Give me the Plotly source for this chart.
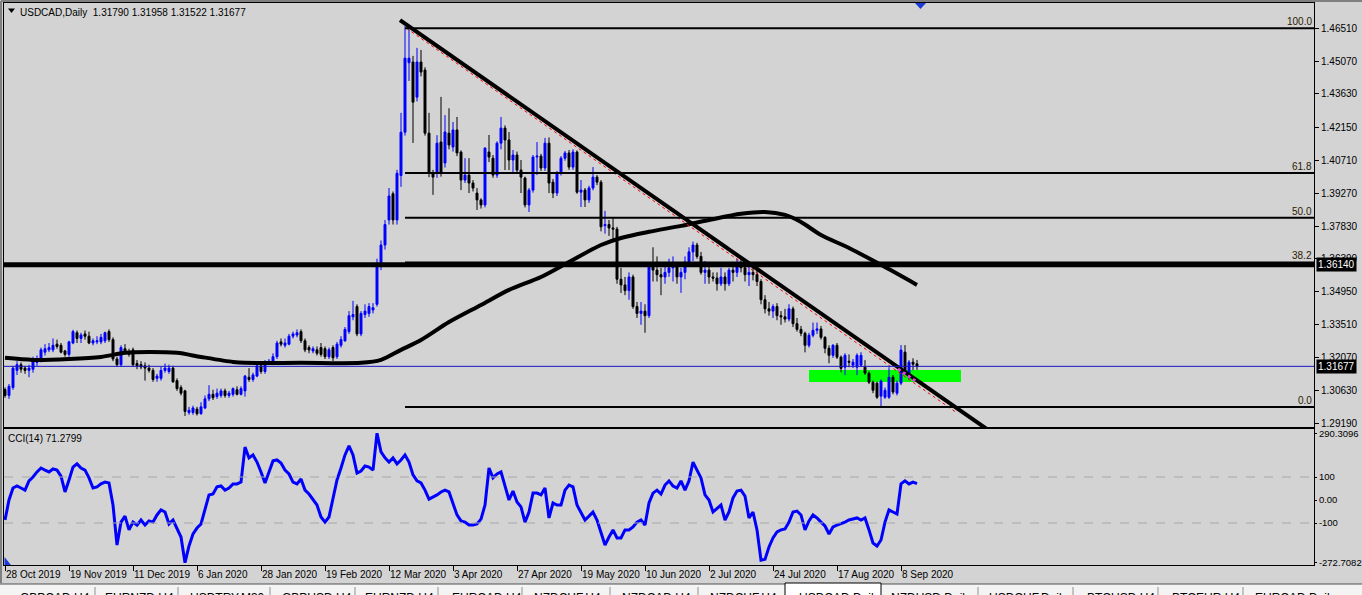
import plotly.graph_objects as go

FONT = "Liberation Sans"
BG = "#d3d3d3"

# ---------------- data ----------------
opens = [
    1.3066, 1.3040, 1.3075, 1.3150, 1.3175, 1.3160, 1.3150, 1.3155, 1.3185, 1.3195,
    1.3230, 1.3240, 1.3240, 1.3265, 1.3260, 1.3235, 1.3220, 1.3270, 1.3315, 1.3290,
    1.3310, 1.3300, 1.3270, 1.3275, 1.3275, 1.3280, 1.3320, 1.3285, 1.3200, 1.3175,
    1.3245, 1.3230, 1.3240, 1.3180, 1.3175, 1.3170, 1.3160, 1.3150, 1.3115, 1.3115,
    1.3150, 1.3145, 1.3160, 1.3105, 1.3075, 1.3060, 1.2965, 1.2965, 1.2980, 1.2960,
    1.2985, 1.3025, 1.3045, 1.3035, 1.3040, 1.3060, 1.3040, 1.3045, 1.3065, 1.3045,
    1.3060, 1.3120, 1.3110, 1.3125, 1.3170, 1.3145, 1.3180, 1.3185, 1.3210, 1.3275,
    1.3260, 1.3265, 1.3300, 1.3305, 1.3320, 1.3280, 1.3250, 1.3235, 1.3240, 1.3250,
    1.3245, 1.3210, 1.3250, 1.3210, 1.3260, 1.3280, 1.3320, 1.3385, 1.3430, 1.3310,
    1.3395, 1.3400, 1.3415, 1.3440, 1.3610, 1.3700, 1.3810, 1.3925, 1.3810, 1.4005,
    1.4195, 1.4500, 1.4503, 1.4349, 1.4503, 1.4468, 1.4191, 1.4016, 1.4016, 1.4152,
    1.4060, 1.4191, 1.4130, 1.4205, 1.4108, 1.3985, 1.4007, 1.3972, 1.3928, 1.3898,
    1.3876, 1.4108, 1.4081, 1.4007, 1.4147, 1.4213, 1.4161, 1.4073, 1.4095, 1.4029,
    1.3994, 1.3876, 1.3941, 1.4086, 1.4090, 1.4038, 1.4147, 1.3976, 1.3928, 1.4016,
    1.4081, 1.4104, 1.4042, 1.4108, 1.3932, 1.3941, 1.3898, 1.3950, 1.3998, 1.3976,
    1.3785, 1.3790, 1.3775, 1.3770, 1.3550, 1.3525, 1.3500, 1.3560, 1.3430, 1.3400,
    1.3410, 1.3390, 1.3610, 1.3590, 1.3570, 1.3560, 1.3580, 1.3600, 1.3610, 1.3560,
    1.3580, 1.3625, 1.3670, 1.3700, 1.3650, 1.3580, 1.3590, 1.3560, 1.3555, 1.3530,
    1.3560, 1.3530, 1.3590, 1.3580, 1.3610, 1.3600, 1.3570, 1.3580, 1.3570, 1.3540,
    1.3460, 1.3420, 1.3410, 1.3430, 1.3390, 1.3385, 1.3375, 1.3420, 1.3355, 1.3330,
    1.3313, 1.3260, 1.3304, 1.3326, 1.3332, 1.3295, 1.3247, 1.3216, 1.3260, 1.3208,
    1.3164, 1.3190, 1.3173, 1.3164, 1.3173, 1.3164, 1.3138, 1.3098, 1.3094, 1.3037,
    1.3032, 1.3032, 1.3120, 1.3050, 1.3094, 1.3230, 1.3120, 1.3186, 1.31790,
]
highs = [
    1.3075, 1.3090, 1.3170, 1.3190, 1.3185, 1.3170, 1.3175, 1.3210, 1.3215, 1.3250,
    1.3265, 1.3270, 1.3290, 1.3285, 1.3270, 1.3240, 1.3280, 1.3328, 1.3325, 1.3315,
    1.3325, 1.3320, 1.3290, 1.3300, 1.3310, 1.3320, 1.3330, 1.3295, 1.3210, 1.3260,
    1.3265, 1.3245, 1.3250, 1.3195, 1.3190, 1.3185, 1.3175, 1.3160, 1.3135, 1.3165,
    1.3180, 1.3175, 1.3170, 1.3115, 1.3085, 1.3065, 1.2990, 1.2995, 1.2990, 1.3010,
    1.3040, 1.3085, 1.3065, 1.3070, 1.3070, 1.3070, 1.3060, 1.3075, 1.3080, 1.3080,
    1.3130, 1.3160, 1.3140, 1.3185, 1.3190, 1.3195, 1.3200, 1.3225, 1.3280, 1.3290,
    1.3290, 1.3310, 1.3320, 1.3330, 1.3330, 1.3290, 1.3260, 1.3255, 1.3255, 1.3270,
    1.3255, 1.3250, 1.3260, 1.3275, 1.3300, 1.3340, 1.3410, 1.3455, 1.3440, 1.3410,
    1.3440, 1.3445, 1.3445, 1.3640, 1.3720, 1.3810, 1.3950, 1.3935, 1.4030, 1.4280,
    1.4660, 1.4645, 1.4530, 1.4565, 1.4556, 1.4480, 1.4280, 1.4030, 1.4182, 1.4350,
    1.4270, 1.4300, 1.4240, 1.4262, 1.4115, 1.4081, 1.4081, 1.3985, 1.3950, 1.3905,
    1.4130, 1.4183, 1.4095, 1.4155, 1.4262, 1.4225, 1.4196, 1.4117, 1.4110, 1.4073,
    1.4000, 1.3950, 1.4095, 1.4152, 1.4100, 1.4170, 1.4172, 1.3990, 1.4025, 1.4090,
    1.4113, 1.4117, 1.4120, 1.4115, 1.3985, 1.3950, 1.3960, 1.4042, 1.4007, 1.3985,
    1.3850, 1.3810, 1.3820, 1.3780, 1.3600, 1.3560, 1.3580, 1.3570, 1.3450, 1.3450,
    1.3440, 1.3625, 1.3690, 1.3650, 1.3600, 1.3620, 1.3640, 1.3650, 1.3620, 1.3600,
    1.3650, 1.3690, 1.3715, 1.3710, 1.3670, 1.3630, 1.3610, 1.3580, 1.3580, 1.3600,
    1.3580, 1.3600, 1.3620, 1.3640, 1.3650, 1.3620, 1.3610, 1.3600, 1.3590, 1.3550,
    1.3480, 1.3450, 1.3440, 1.3445, 1.3410, 1.3420, 1.3440, 1.3430, 1.3380, 1.3345,
    1.3320, 1.3315, 1.3360, 1.3360, 1.3345, 1.3300, 1.3260, 1.3265, 1.3270, 1.3215,
    1.3225, 1.3220, 1.3200, 1.3225, 1.3230, 1.3195, 1.3145, 1.3105, 1.3100, 1.3110,
    1.3075, 1.3164, 1.3130, 1.3105, 1.3261, 1.3261, 1.3195, 1.3203, 1.31958,
]
lows = [
    1.3030, 1.3025, 1.3065, 1.3130, 1.3140, 1.3135, 1.3120, 1.3140, 1.3170, 1.3185,
    1.3215, 1.3230, 1.3230, 1.3245, 1.3225, 1.3210, 1.3210, 1.3265, 1.3270, 1.3270,
    1.3285, 1.3265, 1.3260, 1.3265, 1.3265, 1.3270, 1.3275, 1.3190, 1.3165, 1.3165,
    1.3220, 1.3210, 1.3165, 1.3155, 1.3155, 1.3105, 1.3140, 1.3100, 1.3100, 1.3105,
    1.3140, 1.3135, 1.3095, 1.3060, 1.3040, 1.2950, 1.2955, 1.2955, 1.2952, 1.2955,
    1.2980, 1.3015, 1.3020, 1.3025, 1.3030, 1.3030, 1.3030, 1.3035, 1.3040, 1.3040,
    1.3035, 1.3100, 1.3100, 1.3120, 1.3135, 1.3135, 1.3175, 1.3180, 1.3200, 1.3255,
    1.3250, 1.3260, 1.3290, 1.3295, 1.3270, 1.3230, 1.3225, 1.3225, 1.3215, 1.3210,
    1.3200, 1.3200, 1.3190, 1.3200, 1.3250, 1.3275, 1.3310, 1.3370, 1.3300, 1.3300,
    1.3380, 1.3385, 1.3400, 1.3430, 1.3590, 1.3680, 1.3790, 1.3790, 1.3790, 1.3955,
    1.4180, 1.4420, 1.4148, 1.4330, 1.4440, 1.4180, 1.3998, 1.3920, 1.3995, 1.4000,
    1.4040, 1.4120, 1.4110, 1.4090, 1.3941, 1.3972, 1.3928, 1.3935, 1.3854, 1.3860,
    1.3865, 1.4064, 1.3995, 1.3995, 1.4120, 1.4029, 1.4029, 1.4016, 1.4015, 1.3928,
    1.3865, 1.3845, 1.3930, 1.4007, 1.4025, 1.4025, 1.3928, 1.3906, 1.3915, 1.4005,
    1.4070, 1.4030, 1.4030, 1.3925, 1.3867, 1.3867, 1.3885, 1.3940, 1.3963, 1.3760,
    1.3750, 1.3740, 1.3715, 1.3530, 1.3490, 1.3480, 1.3460, 1.3420, 1.3380, 1.3350,
    1.3315, 1.3380, 1.3540, 1.3540, 1.3480, 1.3530, 1.3560, 1.3540, 1.3530, 1.3490,
    1.3550, 1.3610, 1.3630, 1.3640, 1.3570, 1.3530, 1.3530, 1.3540, 1.3500, 1.3520,
    1.3500, 1.3520, 1.3540, 1.3560, 1.3580, 1.3540, 1.3520, 1.3545, 1.3520, 1.3440,
    1.3400, 1.3390, 1.3380, 1.3370, 1.3350, 1.3360, 1.3365, 1.3340, 1.3320, 1.3300,
    1.3229, 1.3250, 1.3295, 1.3310, 1.3285, 1.3225, 1.3181, 1.3205, 1.3200, 1.3142,
    1.3129, 1.3164, 1.3160, 1.3129, 1.3165, 1.3130, 1.3090, 1.3050, 1.3025, 1.2990,
    1.3025, 1.3025, 1.3045, 1.3040, 1.3085, 1.3130, 1.3110, 1.3151, 1.31522,
]
closes = [
    1.3040, 1.3080, 1.3160, 1.3175, 1.3155, 1.3150, 1.3160, 1.3195, 1.3200, 1.3240,
    1.3245, 1.3250, 1.3260, 1.3255, 1.3230, 1.3220, 1.3275, 1.3320, 1.3290, 1.3305,
    1.3300, 1.3270, 1.3280, 1.3280, 1.3295, 1.3315, 1.3285, 1.3200, 1.3175, 1.3250,
    1.3230, 1.3220, 1.3175, 1.3170, 1.3165, 1.3160, 1.3150, 1.3110, 1.3125, 1.3150,
    1.3160, 1.3160, 1.3100, 1.3070, 1.3050, 1.2970, 1.2975, 1.2985, 1.2960, 1.2990,
    1.3025, 1.3045, 1.3030, 1.3050, 1.3060, 1.3040, 1.3050, 1.3070, 1.3045, 1.3070,
    1.3125, 1.3110, 1.3130, 1.3170, 1.3145, 1.3185, 1.3190, 1.3210, 1.3270, 1.3265,
    1.3270, 1.3300, 1.3310, 1.3315, 1.3280, 1.3240, 1.3240, 1.3245, 1.3225, 1.3220,
    1.3210, 1.3240, 1.3205, 1.3265, 1.3285, 1.3330, 1.3390, 1.3395, 1.3310, 1.3400,
    1.3410, 1.3430, 1.3425, 1.3610, 1.3700, 1.3790, 1.3915, 1.3810, 1.4015, 1.4195,
    1.4520, 1.4520, 1.4327, 1.4503, 1.4459, 1.4191, 1.4016, 1.3998, 1.4147, 1.4016,
    1.4196, 1.4139, 1.4205, 1.4104, 1.3985, 1.4007, 1.3972, 1.3950, 1.3898, 1.3876,
    1.4125, 1.4086, 1.4007, 1.4147, 1.4213, 1.4161, 1.4073, 1.4095, 1.4029, 1.3998,
    1.3876, 1.3941, 1.4086, 1.4090, 1.4038, 1.4147, 1.3972, 1.3928, 1.4016, 1.4081,
    1.4104, 1.4042, 1.4108, 1.3932, 1.3941, 1.3898, 1.3950, 1.3998, 1.3976, 1.3780,
    1.3790, 1.3775, 1.3770, 1.3550, 1.3525, 1.3500, 1.3560, 1.3430, 1.3400, 1.3410,
    1.3390, 1.3610, 1.3590, 1.3570, 1.3560, 1.3580, 1.3600, 1.3610, 1.3560, 1.3580,
    1.3625, 1.3670, 1.3700, 1.3650, 1.3580, 1.3590, 1.3560, 1.3555, 1.3530, 1.3560,
    1.3530, 1.3590, 1.3580, 1.3610, 1.3600, 1.3570, 1.3580, 1.3570, 1.3540, 1.3460,
    1.3420, 1.3410, 1.3430, 1.3390, 1.3385, 1.3375, 1.3420, 1.3355, 1.3330, 1.3313,
    1.3260, 1.3304, 1.3326, 1.3332, 1.3295, 1.3247, 1.3216, 1.3260, 1.3208, 1.3159,
    1.3216, 1.3186, 1.3186, 1.3216, 1.3216, 1.3138, 1.3098, 1.3063, 1.3032, 1.3103,
    1.3063, 1.3120, 1.3055, 1.3094, 1.3239, 1.3142, 1.3186, 1.3177, 1.31677,
]
cci = [
    -87, 0, 52, 61, 52, 43, 83, 100, 122, 139,
    130, 122, 135, 130, 104, 35, 87, 143, 157, 139,
    130, 96, 52, 57, 70, 78, 74, -22, -196, -96,
    -70, -130, -96, -109, -87, -109, -91, -96, -65, -43,
    -52, -104, -87, -122, -161, -272.7082, -200, -148, -122, -104,
    -43, 22, 26, 57, 61, 43, 52, 70, 70, 78,
    230, 183, 196, 165, 122, 74, 122, 170, 174, 161,
    130, 113, 78, 70, 91, 43, 26, 4, -22, -74,
    -96, -74, 0, 87, 139, 196, 235, 196, 117, 126,
    148, 143, 130, 290.3096, 209, 183, 165, 183, 157, 174,
    196, 165, 109, 83, 74, 43, 4, 13, 22, 35,
    43, 35, -13, -65, -91, -96, -109, -109, -104, -83,
    -22, 139, 96, 113, 122, 65, 0, 39, -9, -30,
    -96, -52, 30, 30, 22, 52, -78, -13, -22, -22,
    43, 65, 57, -22, -57, -87, -70, -52, -87, -139,
    -196, -161, -130, -165, -165, -130, -130, -117, -96, -87,
    -109, -13, 30, 43, 26, 65, 83, 61, 52, 83,
    43, 83, 165, 130, 96, 22, 0, -52, -35, -22,
    -87, -52, 9, 39, 43, 17, -78, -52, -130, -262,
    -258, -204, -165, -139, -130, -126, -96, -52, -48, -65,
    -130, -91, -65, -78, -96, -113, -148, -117, -109, -104,
    -96, -87, -83, -78, -87, -78, -130, -187, -200, -174,
    -96, -43, -52, -61, 70, 83, 70, 78, 71.2799,
]
bars = list(range(len(closes)))

# moving average, sampled at bar positions
ma_bar = [0, 7, 16, 24, 30, 36, 43, 49, 57, 60, 74, 89, 94, 99, 104, 111, 119, 126,
          134, 141, 149, 154, 161, 169, 176, 184, 190, 195, 199, 204, 211, 219, 228]
ma_val = [1.3205, 1.3196, 1.3200, 1.3209, 1.3227, 1.3231, 1.3227, 1.3209, 1.3187, 1.3183,
          1.3183, 1.3183, 1.3196, 1.3240, 1.3283, 1.3362, 1.3437, 1.3503, 1.3560, 1.3626,
          1.3700, 1.3731, 1.3758, 1.3784, 1.3810, 1.3837, 1.3845, 1.3832, 1.3801, 1.3744,
          1.3687, 1.3613, 1.3525]

# drawing objects (anchor bar, anchor price)
trend_bar = [98.75, 246.0]
trend_price = [1.4687, 1.2886]
red_bar = [100.4, 238.0]
red_price = [1.4651, 1.2963]
mag_bar = [223.25, 228.0]
mag_price = [1.3156, 1.3099]
zone_bar = [201, 239]
zone_price = [1.3099, 1.3152]
fib_high, fib_low, fib_start_bar = 1.4651, 1.2989, 100
fib_levels = [100.0, 61.8, 50.0, 38.2, 0.0]
level_line = 1.36140
last_price = 1.31677

tick_bars = [0, 16, 32, 48, 64, 80, 96, 112, 128, 144, 160, 176, 192, 208, 224]
tick_labels = ["28 Oct 2019", "19 Nov 2019", "11 Dec 2019", "6 Jan 2020", "28 Jan 2020",
               "19 Feb 2020", "12 Mar 2020", "3 Apr 2020", "27 Apr 2020", "19 May 2020",
               "10 Jun 2020", "2 Jul 2020", "24 Jul 2020", "17 Aug 2020", "8 Sep 2020"]
price_ticks = [1.46510, 1.45070, 1.43630, 1.42150, 1.40710, 1.39270, 1.37830, 1.36390,
               1.34950, 1.33510, 1.32070, 1.30630, 1.29190]
cci_ticks = [290.3096, 100, 0, -100, -272.7082]
cci_tick_text = ["290.3096", "100", "0.00", "-100", "-272.7082"]

tab_names = ["GBPCAD,H4", "EURNZD,H4", "USDTRY,M30", "GBPUSD,H4", "EURNZD,H4", "EURCAD,H4",
             "NZDCHF,H4", "NZDCAD,H4", "NZDCHF,H4", "USDCAD,Daily", "NZDUSD,Daily",
             "USDCHF,Daily", "BTCUSD,H4", "BTCEUR,H4", "EURCAD,Daily"]

# ---------------- layout geometry (pixels) ----------------
W, H = 1362, 595
PL, PR, PT, PB = 4, 1314, 3, 565
MAIN_BOT, CCI_TOP = 427, 429
X_MIN, X_MAX = -0.25, -0.25 + (PR - PL) / 4.0


def fx(px):
    return (px - PL) / (PR - PL)


def fy(py):
    return (PB - py) / (PB - PT)


fig = go.Figure()

fig.add_trace(go.Candlestick(
    x=bars, open=opens, high=highs, low=lows, close=closes,
    increasing=dict(line=dict(color="#0000ff", width=1), fillcolor="#0000ff"),
    decreasing=dict(line=dict(color="#000000", width=1), fillcolor="#000000"),
    whiskerwidth=0, hoverinfo="skip", showlegend=False, xaxis="x", yaxis="y"))

fig.add_trace(go.Scatter(x=ma_bar, y=ma_val, mode="lines",
                         line=dict(color="#000000", width=4, shape="spline", smoothing=0.8),
                         hoverinfo="skip", showlegend=False, xaxis="x", yaxis="y"))
fig.add_trace(go.Scatter(x=trend_bar, y=trend_price, mode="lines",
                         line=dict(color="#000000", width=4),
                         hoverinfo="skip", showlegend=False, xaxis="x", yaxis="y"))
fig.add_trace(go.Scatter(x=red_bar, y=red_price, mode="lines",
                         line=dict(color="#ff0000", width=1, dash="dot"),
                         hoverinfo="skip", showlegend=False, xaxis="x", yaxis="y"))
fig.add_trace(go.Scatter(x=mag_bar, y=mag_price, mode="lines",
                         line=dict(color="#e040e0", width=3, dash="dot"),
                         hoverinfo="skip", showlegend=False, xaxis="x", yaxis="y"))
fig.add_trace(go.Scatter(x=bars, y=cci, mode="lines",
                         line=dict(color="#0000ff", width=3),
                         hoverinfo="skip", showlegend=False, xaxis="x2", yaxis="y2"))

shapes = []
# support zone
shapes.append(dict(type="rect", xref="x", yref="y", x0=zone_bar[0], x1=zone_bar[1],
                   y0=zone_price[0], y1=zone_price[1], fillcolor="#00ff00",
                   line=dict(width=0), layer="below"))
# fibonacci levels
for lv in fib_levels:
    p = fib_low + (fib_high - fib_low) * lv / 100.0
    shapes.append(dict(type="line", xref="x", yref="y", x0=fib_start_bar, x1=X_MAX,
                       y0=p, y1=p, line=dict(color="#000000", width=2)))
# horizontal level and current price
shapes.append(dict(type="line", xref="paper", yref="y", x0=0, x1=1, y0=level_line,
                   y1=level_line, line=dict(color="#000000", width=5)))
shapes.append(dict(type="line", xref="paper", yref="y", x0=0, x1=1, y0=last_price,
                   y1=last_price, line=dict(color="#1414c8", width=1)))
# CCI +/-100
for lv in (100, -100):
    shapes.append(dict(type="line", xref="paper", yref="y2", x0=0, x1=1, y0=lv, y1=lv,
                       line=dict(color="#a8a8a8", width=1, dash="dash")))
# small markers
shapes.append(dict(type="path", xref="paper", yref="paper",
                   path=f"M {fx(915)},{fy(3)} L {fx(926)},{fy(3)} L {fx(920.5)},{fy(9)} Z",
                   fillcolor="#1c3cd8", line=dict(width=0)))
shapes.append(dict(type="path", xref="paper", yref="paper",
                   path=f"M {fx(8)},{fy(8.5)} L {fx(15)},{fy(8.5)} L {fx(11.5)},{fy(13)} Z",
                   fillcolor="#000000", line=dict(width=0)))
shapes.append(dict(type="path", xref="paper", yref="paper",
                   path=f"M {fx(4.5)},{fy(557)} L {fx(4.5)},{fy(565)} L {fx(11)},{fy(565)} Z",
                   fillcolor="#1c3cd8", line=dict(width=0)))
# outer window frame
shapes.append(dict(type="line", xref="paper", yref="paper", x0=fx(1), x1=fx(1),
                   y0=fy(1), y1=fy(583), line=dict(color="#808080", width=2)))
shapes.append(dict(type="line", xref="paper", yref="paper", x0=fx(1), x1=fx(W),
                   y0=fy(1), y1=fy(1), line=dict(color="#808080", width=2)))
# tab bar
shapes.append(dict(type="rect", xref="paper", yref="paper", x0=fx(0), x1=fx(W),
                   y0=fy(H + 2), y1=fy(584), fillcolor="#f4f4f4", line=dict(width=0)))
shapes.append(dict(type="line", xref="paper", yref="paper", x0=fx(0), x1=fx(W),
                   y0=fy(584), y1=fy(584), line=dict(color="#505050", width=1)))
for sx in [95, 178, 270, 355, 438, 522, 610, 698, 978, 1073, 1158, 1243]:
    shapes.append(dict(type="line", xref="paper", yref="paper", x0=fx(sx), x1=fx(sx),
                       y0=fy(587), y1=fy(H), line=dict(color="#909090", width=1)))
shapes.append(dict(type="rect", xref="paper", yref="paper", x0=fx(785), x1=fx(881),
                   y0=fy(H + 2), y1=fy(583), fillcolor="#ffffff",
                   line=dict(color="#000000", width=1)))

annotations = []
annotations.append(dict(xref="paper", yref="paper", x=fx(18), y=fy(12), xanchor="left",
                        yanchor="middle", showarrow=False,
                        text="USDCAD,Daily  1.31790 1.31958 1.31522 1.31677",
                        font=dict(family=FONT, size=10, color="#000000")))
annotations.append(dict(xref="paper", yref="paper", x=fx(6), y=fy(438), xanchor="left",
                        yanchor="middle", showarrow=False, text="CCI(14) 71.2799",
                        font=dict(family=FONT, size=10, color="#000000")))
for lv in fib_levels:
    p = fib_low + (fib_high - fib_low) * lv / 100.0
    annotations.append(dict(xref="paper", yref="y", x=1, y=p, xanchor="right",
                            yanchor="bottom", xshift=-1, showarrow=False,
                            text=f"{lv:.1f}", borderpad=0,
                            font=dict(family=FONT, size=10, color="#2a2000")))
for p in (level_line, last_price):
    annotations.append(dict(xref="paper", yref="y", x=1, y=p, xanchor="left",
                            yanchor="middle", xshift=2, showarrow=False,
                            text=f"{p:.5f}", bgcolor="#000000", borderpad=1,
                            font=dict(family=FONT, size=10, color="#ffffff")))
tab_left = [18, 103, 188, 280, 363, 450, 532, 620, 708, 797, 889, 987, 1085, 1170, 1253]
for name, lx in zip(tab_names, tab_left):
    annotations.append(dict(xref="paper", yref="paper", x=fx(lx), y=fy(589),
                            xanchor="left", yanchor="top", showarrow=False, text=name,
                            font=dict(family=FONT, size=12, color="#000000")))

main_dom = [fy(MAIN_BOT), 1.0]
cci_dom = [0.0, fy(CCI_TOP)]
px_per_price = 2279.0
y_top = 1.46510 + (28.3 - PT) / px_per_price
y_bot = 1.46510 - (MAIN_BOT - 28.3) / px_per_price

axis_common = dict(showgrid=False, zeroline=False, showline=True, mirror=True,
                   linecolor="#000000", linewidth=1, automargin=False)

fig.update_layout(
    width=W, height=H,
    margin=dict(l=PL, r=W - PR, t=PT, b=H - PB, autoexpand=False),
    paper_bgcolor=BG, plot_bgcolor=BG,
    showlegend=False,
    boxgap=0.3,
    font=dict(family=FONT, size=10, color="#000000"),
    xaxis=dict(domain=[0, 1], anchor="y", range=[X_MIN, X_MAX], showticklabels=False,
               ticks="", rangeslider=dict(visible=False), **axis_common),
    yaxis=dict(domain=main_dom, anchor="x", side="right", range=[y_bot, y_top],
               tickvals=price_ticks, ticktext=[f"{v:.5f}" for v in price_ticks],
               ticks="outside", ticklen=4, tickcolor="#000000",
               tickfont=dict(family=FONT, size=10, color="#000000"), **axis_common),
    xaxis2=dict(domain=[0, 1], anchor="y2", matches="x", range=[X_MIN, X_MAX],
                tickvals=tick_bars, ticktext=tick_labels, ticks="outside", ticklen=5,
                tickangle=0, tickcolor="#000000", ticklabelposition="outside right",
                tickfont=dict(family=FONT, size=10, color="#000000"),
                rangeslider=dict(visible=False), **axis_common),
    yaxis2=dict(domain=cci_dom, anchor="x2", side="right", range=[-282.6, 308.7],
                tickvals=cci_ticks, ticktext=cci_tick_text, ticks="outside", ticklen=2,
                tickcolor="#000000", tickfont=dict(family=FONT, size=9.5, color="#000000"),
                **axis_common),
    shapes=shapes,
    annotations=annotations,
)

fig.write_html(
    "out.html",
    config={"displayModeBar": False},
    post_script="document.body.style.margin='0';document.body.style.overflow='hidden';"
                "document.body.style.background='#d3d3d3';",
)
